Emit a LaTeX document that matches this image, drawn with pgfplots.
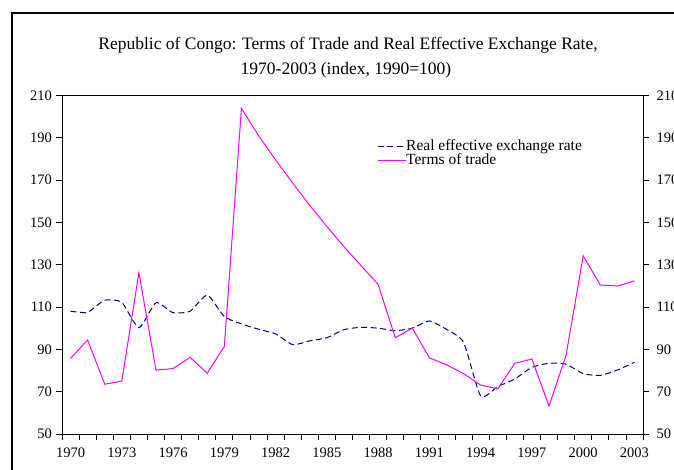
\documentclass[border=0pt]{standalone}
\usepackage{fontspec}
\setmainfont{Liberation Serif}
\usepackage{pgfplots}
\pgfplotsset{compat=1.18}
\definecolor{reer}{HTML}{000080}
\definecolor{tot}{HTML}{FF00FF}
\begin{document}
\begin{tikzpicture}
\draw[line width=2bp, black] (11.5bp,-20bp) |- (700bp,456.7bp);
\node[anchor=base, font=\fontsize{17.5bp}{20bp}\selectfont] at (348bp,420.7bp) {Republic of Congo: Terms of Trade and Real Effective Exchange Rate,};
\node[anchor=base, font=\fontsize{17.5bp}{20bp}\selectfont] at (346bp,395bp) {1970-2003 (index, 1990=100)};
\begin{axis}[
  at={(62bp,36bp)}, anchor=south west,
  scale only axis, width=581bp, height=338.7bp,
  xmin=1969.5, xmax=2003.5, ymin=50, ymax=210,
  xtick={1970,1973,...,2003},
  minor xtick={1969.5,1970.5,...,2003.5},
  xtick pos=bottom,
  ytick={50,70,...,210},
  ytick pos=both, yticklabel pos=left,
  tick align=outside,
  major x tick style={draw=none},
  minor tick length=6bp, major tick length=5.5bp,
  every tick/.style={black, line width=0.8bp},
  axis line style={black, line width=0.8bp},
  /pgf/number format/assume math mode=true,
  /pgf/number format/1000 sep={},
  tick label style={font=\fontsize{14.5bp}{16bp}\selectfont},
  xticklabel style={anchor=base, yshift=-18bp},
  yticklabel style={anchor=east, xshift=-1bp},
  legend style={draw=none, fill=none, at={(axis description cs:0.537,0.877)}, anchor=north west,
    font=\fontsize{15.5bp}{15bp}\selectfont, row sep=0pt,
    nodes={inner sep=0pt, text height=11bp, text depth=3.2bp},
    /tikz/every even column/.append style={column sep=5bp}},
  legend cell align=left,
  legend image code/.code={\draw[#1] (0bp,0bp) -- (28bp,0bp);},
]
\addplot[reer, line width=1bp, dash pattern=on 6bp off 3.5bp, smooth, tension=0.35] coordinates {
(1970,108) (1971,107.5) (1972,113.2) (1973,112.2) (1974,100.2) (1975,112)
(1976,107.3) (1977,108) (1978,115.6) (1979,105.5) (1980,102) (1981,99.5)
(1982,97.3) (1983,92.2) (1984,94) (1985,95.5) (1986,99.3) (1987,100.4)
(1988,100) (1989,98.8) (1990,100) (1991,103.4) (1992,99.4) (1993,93.3)
(1994,68) (1995,72.4) (1996,76) (1997,81.5) (1998,83.4) (1999,83)
(2000,78.5) (2001,77.7) (2002,80.2) (2003,83.9)};
\addlegendentry{Real effective exchange rate}
\addplot[tot, line width=1bp] coordinates {
(1970,85.7) (1971,94.4) (1972,73.5) (1973,75) (1974,126.2) (1975,80.2)
(1976,80.9) (1977,86.2) (1978,78.7) (1979,91.4) (1980,203.8) (1981,191)
(1982,179.5) (1983,168.5) (1984,158) (1985,148) (1986,138.5) (1987,129.5)
(1988,120.7) (1989,95.5) (1990,100) (1991,86) (1992,82.7) (1993,78.5)
(1994,73.1) (1995,71.3) (1996,83.4) (1997,85.4) (1998,63.2) (1999,87.3)
(2000,134.2) (2001,120.4) (2002,119.9) (2003,122.3)};
\addlegendentry{Terms of trade}
\end{axis}
\begin{axis}[
  at={(62bp,36bp)}, anchor=south west,
  scale only axis, width=581bp, height=338.7bp,
  xmin=1969.5, xmax=2003.5, ymin=50, ymax=210,
  hide x axis,
  axis y line*=right,
  axis line style={draw=none},
  ytick={50,70,...,210},
  major tick length=0pt,
  /pgf/number format/assume math mode=true,
  tick label style={font=\fontsize{14.5bp}{16bp}\selectfont},
  yticklabel style={anchor=west, xshift=10bp},
]
\end{axis}
\pgfresetboundingbox
\useasboundingbox (0,0) rectangle (674bp,470bp);
\end{tikzpicture}
\end{document}
